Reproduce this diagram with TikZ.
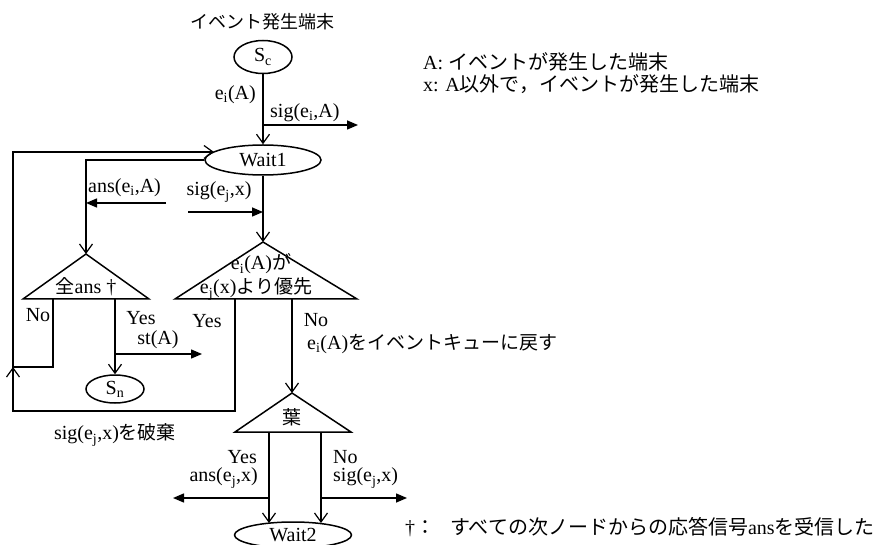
\documentclass[tikz,border=0pt]{standalone}
\usepackage{fontspec}
\setmainfont{Liberation Serif}
\newfontfamily\jp{Noto Sans CJK JP}
\usetikzlibrary{arrows.meta,shapes.geometric}
\tikzset{
  ln/.style={line width=1.5pt},
  openarr/.style={ln,-{Straight Barb[length=9pt,width=13pt,line width=1.2pt]}},
  fillarr/.style={ln,-{Triangle[length=11pt,width=9pt]}},
  stnode/.style={ellipse,draw,line width=1.5pt,inner sep=0pt,font=\fontsize{20}{22}\selectfont},
  lbl/.style={font=\fontsize{20}{22}\selectfont,inner sep=0pt},
  jpsmall/.style={font=\fontsize{18}{20}\selectfont\jp,inner sep=0pt},
}
\newcommand{\jt}[1]{{\fontsize{19}{21}\selectfont\jp #1}}
\begin{document}
\begin{tikzpicture}[x=1pt,y=-1pt]
\useasboundingbox (0,0) rectangle (886,545);
% states
\node[stnode,minimum width=58pt,minimum height=33pt] (Sc) at (263,57) {S\textsubscript{c}};
\node[stnode,minimum width=116pt,minimum height=30pt] (Wait1) at (263,160) {Wait1};
\node[stnode,minimum width=58pt,minimum height=28pt] (Sn) at (115,389) {S\textsubscript{n}};
\node[stnode,minimum width=117pt,minimum height=26pt] (Wait2) at (293,535) {Wait2};
% triangles
\coordinate (t1a) at (86,254); \coordinate (t1l) at (23,299); \coordinate (t1r) at (149,299);
\coordinate (t2a) at (263,242); \coordinate (t2l) at (175,299); \coordinate (t2r) at (357,299);
\coordinate (t3a) at (292,393); \coordinate (t3l) at (235,432); \coordinate (t3r) at (351,432);
\draw[ln,line join=miter] (t1a) -- (t1l) -- (t1r) -- cycle;
\draw[ln,line join=miter] (t2a) -- (t2l) -- (t2r) -- cycle;
\draw[ln,line join=miter] (t3a) -- (t3l) -- (t3r) -- cycle;
% helper coordinates
\coordinate (j1) at (263,125); \coordinate (e1) at (358,125);
\coordinate (w1in) at (214,152);
\coordinate (yb) at (235,299); \coordinate (yb2) at (235,411);
\coordinate (lc) at (13,411); \coordinate (jn) at (13,367);
\coordinate (nb) at (53,299); \coordinate (top) at (13,152);
\coordinate (a1s) at (166,203); \coordinate (a1e) at (86,203);
\coordinate (s2s) at (188,212); \coordinate (s2e) at (263,212);
\coordinate (y1) at (115,299);
\coordinate (sts) at (115,354); \coordinate (ste) at (202,354);
\coordinate (n2) at (292,299);
\coordinate (l3y) at (269,432); \coordinate (l3n) at (321,432);
\coordinate (w2l) at (269,523); \coordinate (w2r) at (321,523);
\coordinate (ans2s) at (269,498); \coordinate (ans2e) at (173,498);
\coordinate (sig3s) at (321,498); \coordinate (sig3e) at (407,498);
% connectors
\draw[openarr] (Sc) -- (Wait1);
\draw[fillarr] (j1) -- (e1);
\draw[openarr] (Wait1) -- (t2a);
\draw[openarr] (Wait1.west) -| (t1a);
\draw[openarr] (yb) -- (yb2) -- (lc) -- (jn);
\draw[openarr] (nb) |- (jn) -- (top) -- (w1in);
\draw[fillarr] (a1s) -- (a1e);
\draw[fillarr] (s2s) -- (s2e);
\draw[openarr] (y1) -- (Sn);
\draw[fillarr] (sts) -- (ste);
\draw[openarr] (n2) -- (t3a);
\draw[openarr] (l3y) -- (w2l);
\draw[openarr] (l3n) -- (w2r);
\draw[fillarr] (ans2s) -- (ans2e);
\draw[fillarr] (sig3s) -- (sig3e);
% labels
\node[jpsmall] (title) at (262,22) {イベント発生端末};
\node[lbl,anchor=east] (leiA) at (256,95) {e\textsubscript{i}(A)};
\node[lbl,anchor=west] (lsigA) at (270,113) {sig(e\textsubscript{i},A)};
\node[lbl,anchor=west] (lans) at (88,188) {ans(e\textsubscript{i},A)};
\node[lbl] (lsigx) at (219,192) {sig(e\textsubscript{j},x)};
\node[lbl] (lall) at (86,287) {\jt{全}ans †};
\node[lbl] (lpri1) at (261,264) {e\textsubscript{i}(A)\jt{が}};
\node[lbl] (lpri2) at (256,289) {e\textsubscript{j}(x)\jt{より優先}};
\node[lbl] (lno1) at (38,315) {No};
\node[lbl] (lyes1) at (141,318) {Yes};
\node[lbl] (lst) at (158,340) {st(A)};
\node[lbl] (lyes2) at (207,321) {Yes};
\node[lbl] (lno2) at (316,320) {No};
\node[lbl,anchor=west] (lq) at (307,344) {e\textsubscript{i}(A)\jt{をイベントキューに戻す}};
\node[lbl] (ldisc) at (115,435) {sig(e\textsubscript{j},x)\jt{を破棄}};
\node[lbl] (lleaf) at (292,417) {\jt{葉}};
\node[lbl,anchor=east] (lyes3) at (257,457) {Yes};
\node[lbl,anchor=east] (lans3) at (258,478) {ans(e\textsubscript{j},x)};
\node[lbl,anchor=west] (lno3) at (333,457) {No};
\node[lbl,anchor=west] (lsig3) at (333,478) {sig(e\textsubscript{j},x)};
\node[lbl,anchor=west] (legA) at (423,62) {A: {\jp イベントが発生した端末}};
\node[lbl,anchor=west] (legx) at (423,84) {x: A{\jp 以外で，イベントが発生した端末}};
\node[lbl,anchor=west] (legd) at (405,527) {†{\jp ：}\hspace{15pt}{\jp すべての次ノードからの応答信号}ans{\jp を受信した}};
\end{tikzpicture}
\end{document}
